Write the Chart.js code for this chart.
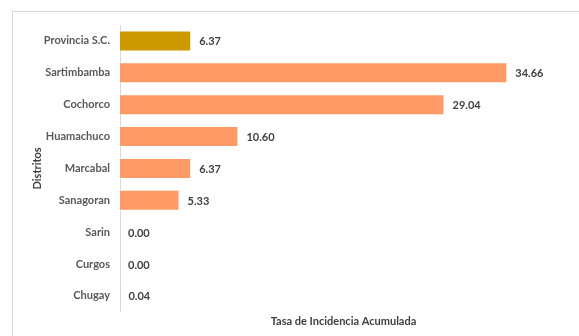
<!DOCTYPE html>
<html>
<head>
<meta charset="utf-8">
<script src="https://cdn.jsdelivr.net/npm/chart.js@4"></script>
<style>
html,body{margin:0;padding:0;background:#fff;overflow:hidden;width:579px;height:336px;}
#frame{position:absolute;left:12px;top:11px;width:700px;height:400px;border:1px solid #d9d9d9;box-sizing:border-box;}
#wrap{position:absolute;left:0;top:0;width:579px;height:336px;}
</style>
</head>
<body>
<div id="frame"></div>
<div id="wrap"><canvas id="c" width="579" height="336"></canvas></div>
<script>
const categories = ["Provincia S.C.","Sartimbamba","Cochorco","Huamachuco","Marcabal","Sanagoran","Sarin","Curgos","Chugay"];
const values = [6.37, 34.66, 29.04, 10.60, 6.37, 5.33, 0.00, 0.00, 0.04];
const barColors = ["#CC9900","#FF9966","#FF9966","#FF9966","#FF9966","#FF9966","#FF9966","#FF9966","#FF9966"];
const xTitle = "Tasa de Incidencia Acumulada";
const yTitle = "Distritos";

const FONT = "Lato, 'Open Sans', sans-serif";

const labelPlugin = {
  id: 'valueLabels',
  afterDatasetsDraw(chart) {
    const ctx = chart.ctx;
    const meta = chart.getDatasetMeta(0);
    ctx.save();
    ctx.font = "bold 11px " + FONT;
    ctx.fillStyle = "#404040";
    ctx.textAlign = "left";
    ctx.textBaseline = "middle";
    meta.data.forEach((bar, i) => {
      ctx.fillText(values[i].toFixed(2), bar.x + 8, bar.y + 1);
    });
    ctx.restore();
  }
};

new Chart(document.getElementById('c'), {
  type: 'bar',
  data: {
    labels: categories,
    datasets: [{
      data: values,
      backgroundColor: barColors,
      borderColor: 'rgba(255,255,255,0.5)',
      borderWidth: 1,
      categoryPercentage: 1,
      barPercentage: 0.66
    }]
  },
  options: {
    indexAxis: 'y',
    responsive: false,
    animation: false,
    devicePixelRatio: 1,
    layout: { padding: { left: 27, top: 25, right: 12, bottom: 6 } },
    plugins: { legend: { display: false }, tooltip: { enabled: false } },
    scales: {
      x: {
        min: 0, max: 40,
        grid: { display: false, drawTicks: false },
        border: { display: false },
        ticks: { display: false },
        title: { display: true, text: xTitle, color: '#404040', font: { family: FONT, size: 11, weight: 'bold' }, padding: { top: 3, bottom: 2 } }
      },
      y: {
        grid: { display: false, drawTicks: false },
        border: { display: true, color: '#d9d9d9', width: 1 },
        ticks: { color: '#595959', padding: 10, font: { family: FONT, size: 11, weight: 'bold' } },
        title: { display: true, text: yTitle, color: '#404040', font: { family: FONT, size: 11, weight: 'bold' }, padding: 4 },
        afterFit(s) { s.width = 93; }
      }
    }
  },
  plugins: [labelPlugin]
});
</script>
</body>
</html>
